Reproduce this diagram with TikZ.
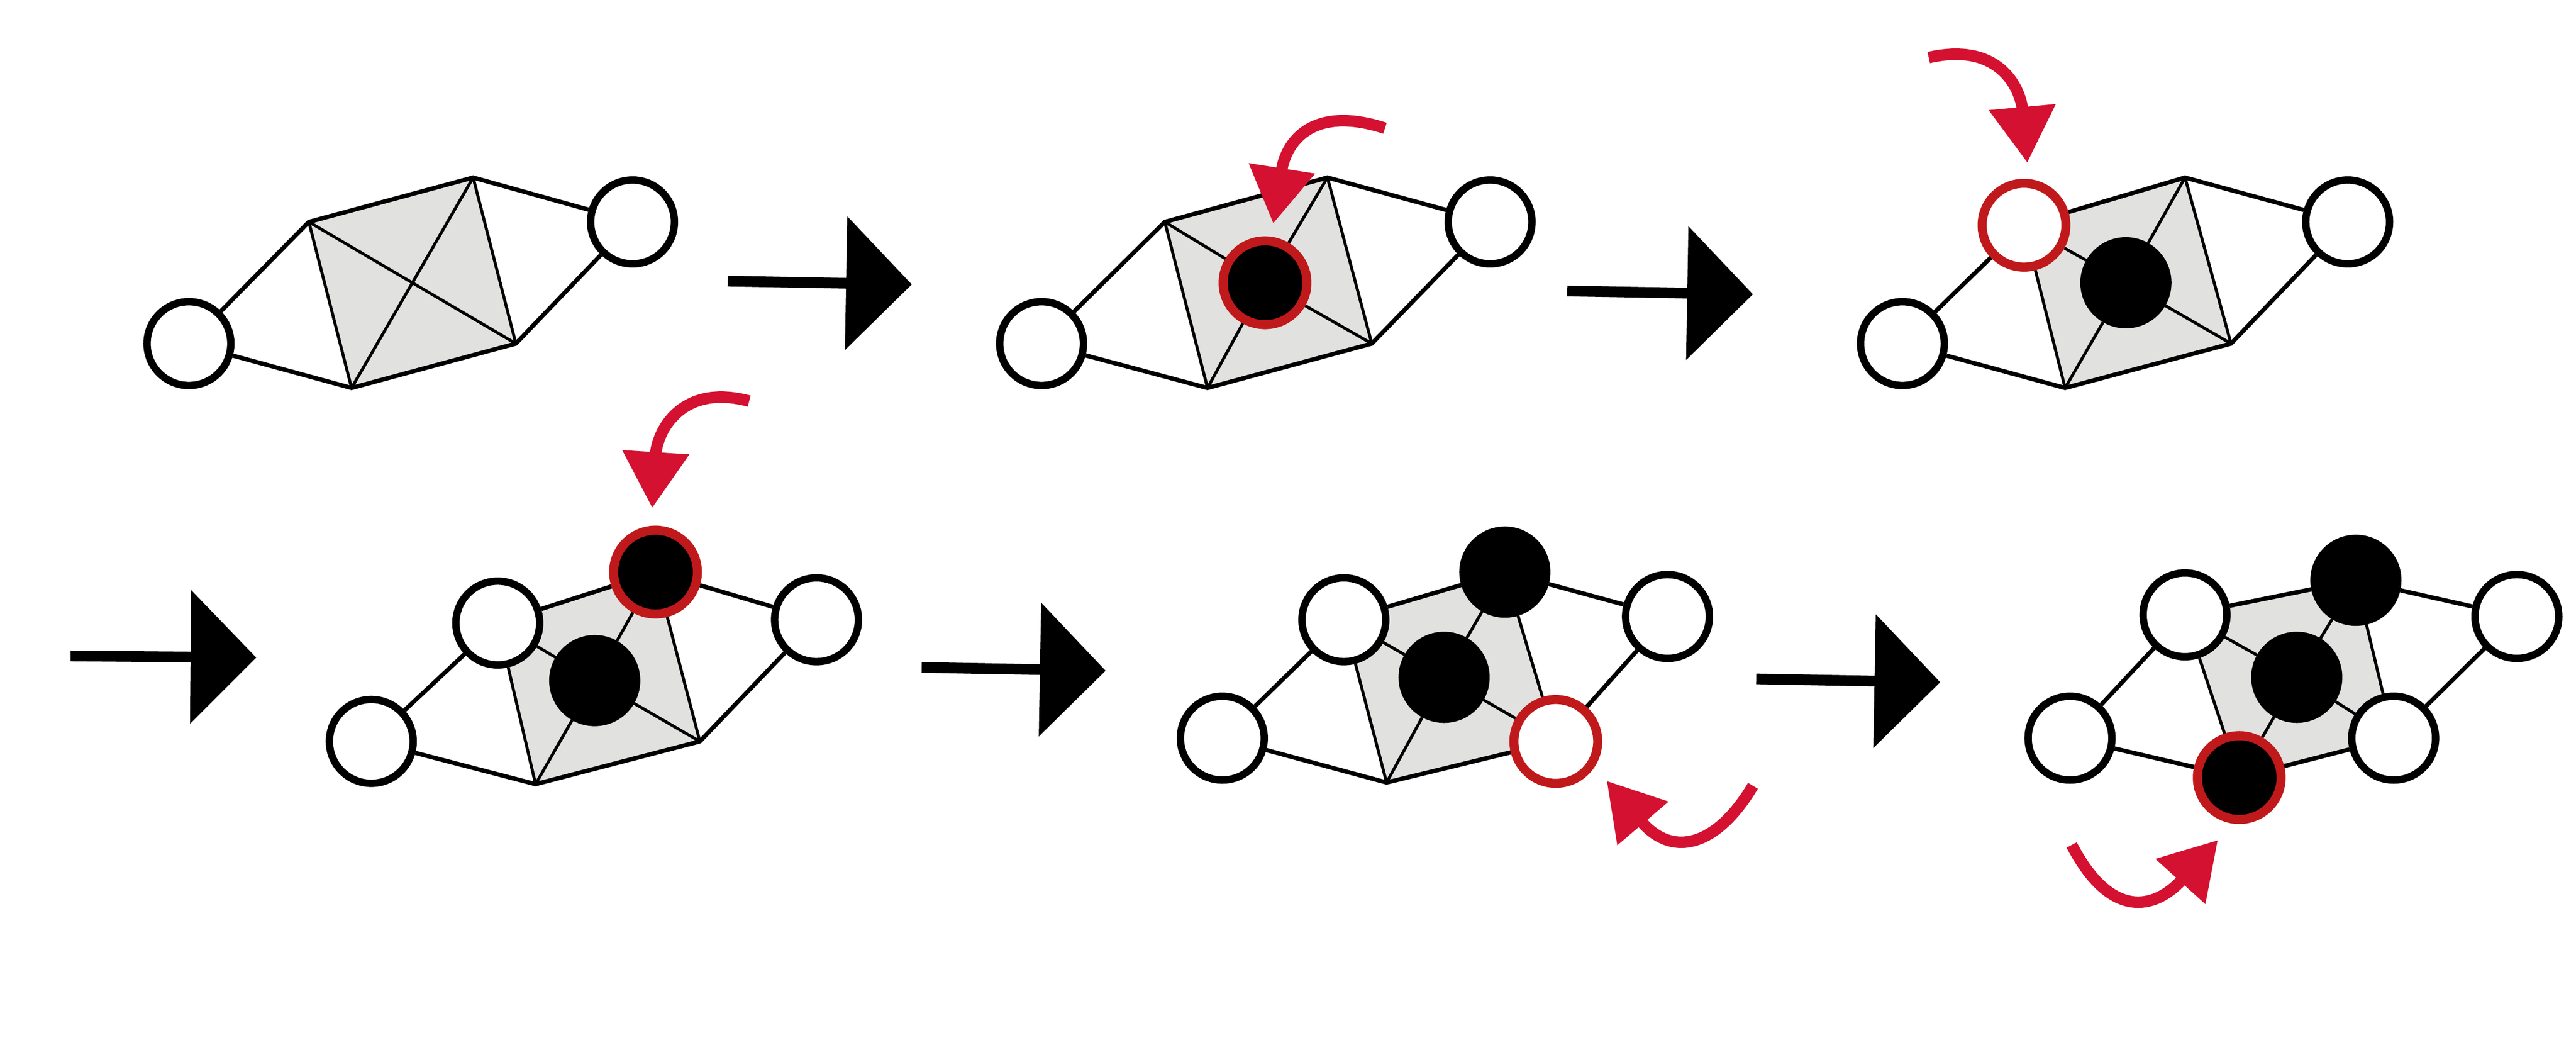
\documentclass[tikz,border=0pt]{standalone}
\usetikzlibrary{arrows.meta, calc}
\pgfdeclarelayer{bg}
\pgfsetlayers{bg,main}
\definecolor{meshgray}{HTML}{E1E1DF}
\definecolor{ringred}{HTML}{C0191B}
\definecolor{arrowred}{HTML}{D41130}

\tikzset{
	vtx/.style={circle, draw=black, line width=4.5pt, fill=white, minimum size=51pt, inner sep=0pt},
	full/.style={vtx, fill=black},
	newvtx/.style={vtx, draw=ringred, line width=5.5pt},
	newfull/.style={newvtx, fill=black},
	outer/.style={line width=2.6pt},
	inner/.style={line width=1.8pt},
	stage/.style={line width=6.5pt, -{Triangle[length=40pt, width=80pt]}},
	move/.style={draw=arrowred, line width=7pt, -{Triangle[length=34pt, width=39pt]}}
}

% one mesh panel, #1 = prefix of its node names
\newcommand{\mesh}[1]{
	\begin{pgfonlayer}{bg}
		\fill[meshgray] (#1tl.center) -- (#1t.center) -- (#1br.center) -- (#1b.center) -- cycle;
	\end{pgfonlayer}
	\draw[outer] (#1l) -- (#1tl) -- (#1t) -- (#1r) -- (#1br) -- (#1b) -- (#1l);
	\draw[inner] (#1tl) -- (#1b);
	\draw[inner] (#1t) -- (#1br);
	\draw[inner] (#1c) -- (#1tl);
	\draw[inner] (#1c) -- (#1t);
	\draw[inner] (#1c) -- (#1br);
	\draw[inner] (#1c) -- (#1b);
}

\begin{document}
\begin{tikzpicture}[x=1pt, y=-1pt]
	\useasboundingbox (0,0) rectangle (1568,646);
	
	% Panel 1
	\node[vtx] (a-l) at (115,209) {};
	\coordinate (a-tl) at (188,135);
	\coordinate (a-t) at (288,108);
	\node[vtx] (a-r) at (385,135) {};
	\coordinate (a-br) at (314,209);
	\coordinate (a-b) at (214,236);
	\coordinate (a-c) at (intersection of a-tl--a-br and a-t--a-b);
	\mesh{a-}
	
	% Panel 2
	\node[vtx] (b-l) at (634,209) {};
	\coordinate (b-tl) at (709,135);
	\coordinate (b-t) at (808,108);
	\node[vtx] (b-r) at (907,135) {};
	\coordinate (b-br) at (835,209);
	\coordinate (b-b) at (735,236);
	\node[newfull] (b-c) at (770,172) {};
	\mesh{b-}
	
	% Panel 3
	\node[vtx] (c-l) at (1158,209) {};
	\node[newvtx] (c-tl) at (1232,137) {};
	\coordinate (c-t) at (1330,108);
	\node[vtx] (c-r) at (1429,135) {};
	\coordinate (c-br) at (1358,209);
	\coordinate (c-b) at (1257,236);
	\node[full] (c-c) at (1294,172) {};
	\mesh{c-}
	
	% Panel 4
	\node[vtx] (d-l) at (226,451) {};
	\node[vtx] (d-tl) at (303,379) {};
	\node[newfull] (d-t) at (399,348) {};
	\node[vtx] (d-r) at (497,377) {};
	\coordinate (d-br) at (426,451);
	\coordinate (d-b) at (326,477);
	\node[full] (d-c) at (362,414) {};
	\mesh{d-}
	
	% Panel 5
	\node[vtx] (e-l) at (744,449) {};
	\node[vtx] (e-tl) at (818,377) {};
	\node[full] (e-t) at (916,348) {};
	\node[vtx] (e-r) at (1015,375) {};
	\node[newvtx] (e-br) at (947,451) {};
	\coordinate (e-b) at (844,476);
	\node[full] (e-c) at (879,412) {};
	\mesh{e-}
	
	% Panel 6
	\node[vtx] (f-l) at (1260,449) {};
	\node[vtx] (f-tl) at (1330,374) {};
	\node[full] (f-t) at (1434,353) {};
	\node[vtx] (f-r) at (1532,375) {};
	\node[vtx] (f-br) at (1457,449) {};
	\node[newfull] (f-b) at (1363,473) {};
	\node[full] (f-c) at (1398,412) {};
	\mesh{f-}
	
	% Stages
	\coordinate (s1a) at (443,171); \coordinate (s1b) at (555,173);
	\coordinate (s2a) at (954,177); \coordinate (s2b) at (1067,179);
	\coordinate (s3a) at (43,399);  \coordinate (s3b) at (156,400);
	\coordinate (s4a) at (561,406); \coordinate (s4b) at (673,408);
	\coordinate (s5a) at (1069,413); \coordinate (s5b) at (1181,415);
	\foreach \i in {1,...,5}
		\draw[stage] (s\i a) -- (s\i b);
	
	% Moves
	\coordinate (m2a) at (843,78);  \coordinate (m2b) at (775,136);
	\coordinate (m3a) at (1174,35); \coordinate (m3b) at (1234,99);
	\coordinate (m4a) at (456,244); \coordinate (m4b) at (397,309);
	\coordinate (m5a) at (1067,478); \coordinate (m5b) at (978,475);
	\coordinate (m6a) at (1261,514); \coordinate (m6b) at (1350,511);
	\draw[move] (m2a) .. controls (800,64) and (783,85) .. (m2b);
	\draw[move] (m3a) .. controls (1218,25) and (1230,55) .. (m3b);
	\draw[move] (m4a) .. controls (415,233) and (400,262) .. (m4b);
	\draw[move] (m5a) .. controls (1045,515) and (1018,522) .. (m5b);
	\draw[move] (m6a) .. controls (1285,560) and (1312,553) .. (m6b);
	
\end{tikzpicture}
\end{document}
